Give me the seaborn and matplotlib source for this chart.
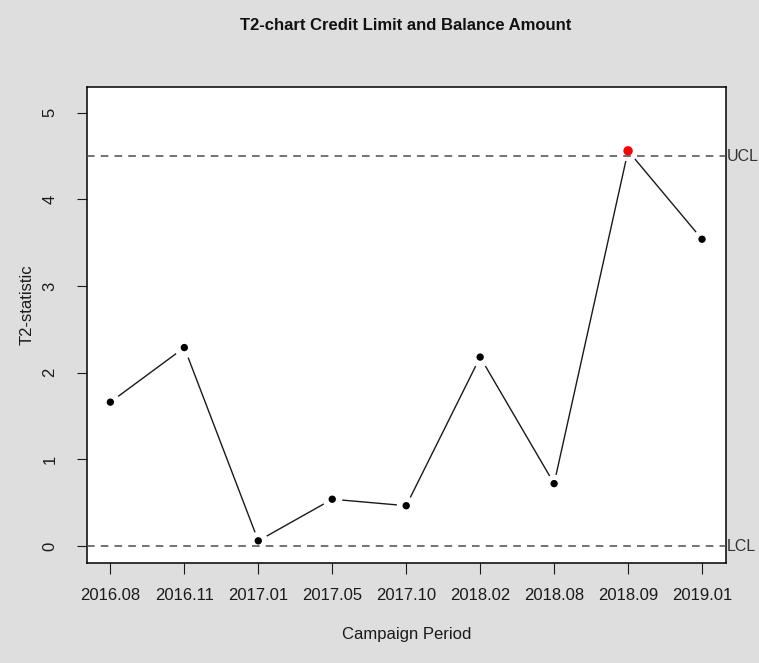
import matplotlib
matplotlib.use("Agg")
import matplotlib.pyplot as plt
import seaborn as sns
import pandas as pd

# T2 statistic per campaign period
periods = ["2016.08", "2016.11", "2017.01", "2017.05", "2017.10",
           "2018.02", "2018.08", "2018.09", "2019.01"]
t2_values = [1.66, 2.29, 0.06, 0.54, 0.465, 2.18, 0.72, 4.56, 3.54]
ucl = 4.50
lcl = 0.0
y_ticks = [0, 1, 2, 3, 4, 5]

sns.set_theme(style="white")
plt.rcParams["font.family"] = ["Liberation Sans", "DejaVu Sans"]

df = pd.DataFrame({"period": periods, "t2": t2_values})
df["status"] = ["out" if (v > ucl or v < lcl) else "in" for v in t2_values]

W, H = 759, 663
fig = plt.figure(figsize=(W / 100, H / 100), dpi=100, facecolor="#dedede")
left, right, top, bottom = 86.7, 725.7, 86.7, 563.0
ax = fig.add_axes([left / W, 1 - bottom / H, (right - left) / W, (bottom - top) / H])
ax.set_facecolor("white")

# connecting line
sns.lineplot(data=df, x="period", y="t2", ax=ax, color="#1a1a1a", lw=1.0,
             sort=False, zorder=2, legend=False)
# white gaps around each point (R type "b" look)
sns.scatterplot(data=df, x="period", y="t2", ax=ax, color="white", s=200,
                linewidth=0, zorder=2.5, legend=False)

# control limits
for val in (ucl, lcl):
    ax.axhline(val, color="#4d4d4d", lw=1.1, ls=(0, (5, 4)), zorder=2.7)
for val, name in ((ucl, "UCL"), (lcl, "LCL")):
    ax.text(1.002, val, name, transform=ax.get_yaxis_transform(), ha="left",
            va="center", fontsize=11.5, color="#333333", clip_on=False)

# points, violations in red
sns.scatterplot(data=df, x="period", y="t2", ax=ax, hue="status", size="status",
                palette={"in": "black", "out": "red"}, sizes={"in": 28, "out": 46},
                linewidth=0, zorder=3, legend=False)

ax.set_xlim(-0.32, 8.32)
ax.set_ylim(-0.196, 5.30)
ax.set_yticks(y_ticks)
ax.set_yticklabels([str(t) for t in y_ticks], rotation=90, va="center")

for side in ax.spines.values():
    side.set_visible(True)
    side.set_color("black")
    side.set_linewidth(1.1)

ax.tick_params(axis="x", direction="out", length=8, width=0.8, pad=10,
               labelsize=12, colors="#1a1a1a", bottom=True)
ax.tick_params(axis="y", direction="out", length=7.2, width=0.8, pad=14,
               labelsize=12, colors="#1a1a1a", left=True)

ax.set_xlabel("Campaign Period", fontsize=12, color="#1a1a1a")
ax.set_ylabel("T2-statistic", fontsize=12, color="#1a1a1a")
ax.xaxis.set_label_coords(0.5, -(634 - bottom) / (bottom - top))
ax.yaxis.set_label_coords(-(left - 27) / (right - left), (bottom - 305) / (bottom - top))
ax.xaxis.label.set_va("center")
ax.yaxis.label.set_va("center")

fig.text(406 / W, 1 - 25 / H, "T2-chart Credit Limit and Balance Amount",
         ha="center", va="center", fontsize=12, fontweight="bold", color="#111111")

fig.savefig("out.png", dpi=100, facecolor=fig.get_facecolor())
